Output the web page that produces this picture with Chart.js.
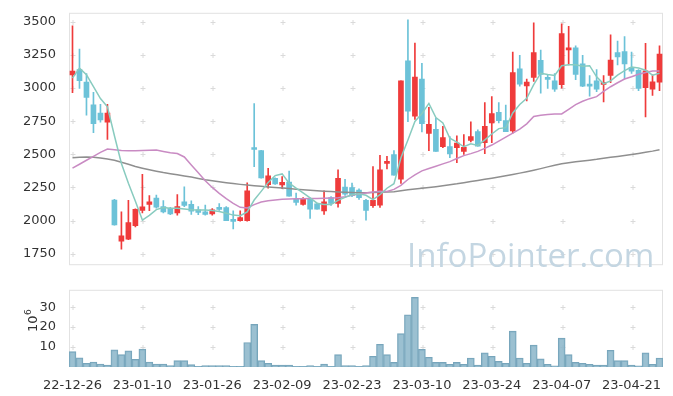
<!DOCTYPE html>
<html>
<head>
<meta charset="utf-8">
<script src="https://cdn.jsdelivr.net/npm/chart.js@4.4.0/dist/chart.umd.min.js"></script>
<style>
  html, body { margin: 0; padding: 0; background: #fff; }
  #wrap { position: relative; width: 673px; height: 396px; }
  canvas { position: absolute; left: 0; }
  #priceChart { top: 0; }
  #volumeChart { top: 277px; }
</style>
</head>
<body>
<div id="wrap">
  <canvas id="priceChart" width="673" height="278"></canvas>
  <canvas id="volumeChart" width="673" height="119"></canvas>
</div>
<script>
// Trading days
const dates = [
  '22-12-26','22-12-27','22-12-28','22-12-29',
  '23-01-02','23-01-03','23-01-04','23-01-05','23-01-06',
  '23-01-09','23-01-10','23-01-11','23-01-12','23-01-13',
  '23-01-16','23-01-17','23-01-18','23-01-19','23-01-20',
  '23-01-25','23-01-26','23-01-27',
  '23-01-30','23-01-31','23-02-01','23-02-02','23-02-03',
  '23-02-06','23-02-07','23-02-08','23-02-09','23-02-10',
  '23-02-13','23-02-14','23-02-15','23-02-16','23-02-17',
  '23-02-20','23-02-21','23-02-22','23-02-23','23-02-24',
  '23-02-27','23-02-28','23-03-02','23-03-03',
  '23-03-06','23-03-07','23-03-08','23-03-09','23-03-10',
  '23-03-13','23-03-14','23-03-15','23-03-16','23-03-17',
  '23-03-20','23-03-21','23-03-22','23-03-23','23-03-24',
  '23-03-27','23-03-28','23-03-29','23-03-30','23-03-31',
  '23-04-03','23-04-04','23-04-05','23-04-06','23-04-07',
  '23-04-10','23-04-11','23-04-12','23-04-13','23-04-14',
  '23-04-17','23-04-18','23-04-19','23-04-20','23-04-21',
  '23-04-24','23-04-25','23-04-26','23-04-27'
];

const openPrices = [3100,3140,3045,2873,2812,2743,2155,1844,1860,1962, 2077,2122,2170,2105,2093,2058,2141,2122,2081,2065,
  2050,2100,2098,2008,1999,1999,2546,2528,2271,2319, 2269,2290,2160,2122,2167,2126,2072,2174,2129,2253,
  2248,2230,2153,2112,2117,2432,2498,2312,3206,2788, 3068,2657,2688,2557,2559,2550,2521,2605,2671,2588,
  2736,2816,2754,2676,3145,3016,3080,3209,3071,3054, 3026,3287,3304,3183,3026,3054,3028,3095,3268,3275,
  3157,3133,3002,2992,3045];
const highPrices = [3470,3294,3109,2968,2878,2878,2160,2065,2153,2089, 2348,2188,2193,2150,2100,2196,2255,2148,2105,2117,
  2090,2129,2105,2074,2074,2284,2883,2530,2395,2322, 2331,2374,2207,2174,2170,2131,2224,2181,2383,2312,
  2283,2240,2160,2407,2493,2485,2528,3054,3515,3340, 3187,2854,2771,2712,2633,2640,2648,2745,2685,2890,
  2935,2890,2871,3271,3247,3068,3492,3287,3104,3110, 3485,3465,3318,3247,3094,3140,3094,3401,3354,3389,
  3271,3140,3337,3099,3318];
const lowPrices = [2965,2997,2795,2664,2743,2612,1965,1784,1855,1951, 2058,2074,2094,2058,2045,2040,2105,2046,2045,2041,
  2040,2077,1999,1936,1995,1995,2407,2320,2245,2272, 2241,2184,2117,2117,2017,2086,2046,2114,2101,2190,
  2180,2160,2003,2100,2100,2390,2343,2281,2747,2764, 2669,2528,2521,2550,2474,2436,2500,2593,2562,2505,
  2588,2736,2671,2660,3014,2902,3050,2961,2997,2975, 3000,3175,3064,3010,2938,2973,2895,3040,3175,3069,
  3110,2980,2783,2945,2980];
const closePrices = [3128,3056,2930,2731,2759,2812,1967,1884,1984,2084, 2103,2141,2101,2065,2050,2105,2114,2070,2062,2046,
  2081,2084,1999,1994,2022,2224,2536,2322,2338,2276, 2288,2184,2136,2162,2086,2086,2141,2129,2319,2200,
  2188,2172,2077,2153,2383,2438,2343,3054,2826,3083, 2731,2726,2521,2626,2502,2585,2552,2633,2562,2712,
  2807,2754,2671,3116,3030,3045,3268,3102,3066,2992, 3411,3304,3102,3014,3014,2992,3040,3211,3235,3183,
  3128,2997,3130,3047,3256];

// Moving averages (5, 20, 60 days)
const ma5 = [3075,3150,3100,3010,2921,2858,2640,2431,2281,2146, 2004,2039,2083,2099,2092,2092,2087,2081,2080,2080,
  2075,2069,2055,2041,2036,2065,2155,2220,2288,2339, 2352,2282,2244,2209,2171,2131,2122,2121,2152,2175,
  2195,2202,2191,2158,2195,2244,2278,2474,2608,2748, 2807,2884,2777,2737,2621,2592,2557,2580,2567,2609,
  2653,2694,2701,2812,2876,2923,3026,3112,3102,3095, 3168,3175,3175,3165,3169,3085,3032,3054,3098,3132,
  3159,3151,3135,3097,3112];
const ma20 = [2395,2425,2455,2485,2515,2540,2534,2528,2526,2526, 2528,2531,2532,2522,2512,2506,2480,2420,2360,2300,
  2250,2205,2165,2130,2100,2095,2120,2140,2150,2156, 2160,2162,2164,2165,2166,2167,2168,2170,2172,2180,
  2190,2200,2208,2215,2222,2220,2235,2265,2310,2345, 2375,2393,2410,2428,2445,2468,2490,2505,2522,2545,
  2570,2600,2630,2660,2690,2730,2785,2795,2800,2805, 2805,2840,2875,2900,2920,2935,2975,3010,3040,3068,
  3085,3104,3118,3128,3128];
const ma60 = [2474,2477,2479,2477,2472,2465,2455,2440,2425,2408, 2395,2383,2372,2362,2354,2345,2337,2328,2318,2308,
  2300,2293,2286,2279,2273,2268,2263,2258,2253,2249, 2245,2241,2237,2233,2229,2225,2222,2219,2216,2213,
  2211,2210,2210,2211,2213,2215,2218,2225,2232,2238, 2244,2250,2256,2263,2270,2277,2286,2295,2303,2311,
  2319,2328,2338,2348,2358,2369,2380,2392,2405,2418, 2428,2436,2443,2449,2456,2462,2470,2477,2484,2491,
  2498,2506,2515,2524,2535];

// Volume, millions of shares
const volumes = [7.7,4.6,1.9,2.5,1.5,1.0,8.6,6.2,8.1,3.8, 9.0,2.5,1.5,1.5,0.7,3.2,3.2,1.2,0.3,0.7,
  0.7,0.7,0.7,0.3,0.3,12.3,21.4,3.2,1.9,1.0, 1.0,1.0,0.3,0.3,0.7,0.3,1.5,0.3,6.2,0.7,
  0.7,0.3,0.7,5.4,11.4,6.2,2.3,16.7,26.2,34.9, 8.8,4.9,2.3,2.3,1.4,2.3,1.4,4.5,1.0,7.1,
  5.4,2.8,1.9,18.0,4.5,1.9,11.0,4.1,1.4,0.6, 14.5,6.2,2.3,1.9,1.4,1.0,1.0,8.4,3.2,3.2,
  1.0,0.6,7.1,1.4,4.5];

const priceTicks = [1750, 2000, 2250, 2500, 2750, 3000, 3250, 3500];
const volumeTicks = [10, 20, 30];

const UP = '#ef3b3b';
const DOWN = '#6cc2d8';
const FONT = 'DejaVu Sans';

const candleColors = closePrices.map((c, i) => c >= openPrices[i] ? UP : DOWN);

// Border plus the little "+" marks where grid lines would cross
function drawFrame(chart, yTicks) {
    const { ctx, chartArea: a, scales: { x, y } } = chart;
    ctx.save();
    ctx.strokeStyle = '#e2e2e2';
    ctx.lineWidth = 1;
    ctx.strokeRect(a.left + 0.5, a.top + 0.5, a.right - a.left - 1, a.bottom - a.top - 1);
    ctx.strokeStyle = '#dadada';
    ctx.beginPath();
    yTicks.forEach(v => {
        const py = Math.round(y.getPixelForValue(v)) + 0.5;
        for (let i = 0; i < dates.length; i += 10) {
            const px = Math.round(x.getPixelForValue(i)) + 0.5;
            ctx.moveTo(px - 2, py); ctx.lineTo(px + 3, py);
            ctx.moveTo(px + 0.5, py - 2.5); ctx.lineTo(px + 0.5, py + 2.5);
        }
    });
    ctx.stroke();
    ctx.restore();
}

const priceFrame = {
    id: 'priceFrame',
    beforeDatasetsDraw(chart) {
        drawFrame(chart, priceTicks);
        const ctx = chart.ctx;
        ctx.save();
        ctx.font = '33px "Open Sans"';
        ctx.fillStyle = '#c4d6e2';
        ctx.textBaseline = 'alphabetic';
        ctx.fillText('InfoPointer.com', 407, 267);
        ctx.restore();
    }
};

const volumeFrame = {
    id: 'volumeFrame',
    beforeDatasetsDraw(chart) {
        drawFrame(chart, volumeTicks);
    },
    afterDraw(chart) {
        const ctx = chart.ctx;
        ctx.save();
        ctx.translate(37, 55);
        ctx.rotate(-Math.PI / 2);
        ctx.fillStyle = '#333';
        ctx.textBaseline = 'alphabetic';
        ctx.font = '13px "' + FONT + '"';
        ctx.fillText('10', 0, 0);
        const w = ctx.measureText('10').width;
        ctx.font = '9px "' + FONT + '"';
        ctx.fillText('6', w + 0.5, -6);
        ctx.restore();
    }
};

new Chart(document.getElementById('priceChart'), {
    type: 'bar',
    data: {
        labels: dates,
        datasets: [
            {
                type: 'line', data: ma5, borderColor: '#88cbbf', borderWidth: 1.5,
                pointRadius: 0, tension: 0, order: 0
            },
            {
                type: 'line', data: ma20, borderColor: '#c98bc3', borderWidth: 1.5,
                pointRadius: 0, tension: 0, order: 0
            },
            {
                type: 'line', data: ma60, borderColor: '#8f8f8f', borderWidth: 1.5,
                pointRadius: 0, tension: 0, order: 0
            },
            {
                // candle bodies
                data: openPrices.map((o, i) => [o, closePrices[i]]),
                backgroundColor: candleColors, barThickness: 5, minBarLength: 2,
                grouped: false, order: 1
            },
            {
                // wicks
                data: lowPrices.map((l, i) => [l, highPrices[i]]),
                backgroundColor: candleColors, barThickness: 1,
                grouped: false, order: 2
            }
        ]
    },
    options: {
        responsive: false,
        animation: false,
        events: [],
        layout: { padding: { top: 10, right: 10, bottom: 1, left: 0 } },
        plugins: { legend: { display: false }, tooltip: { enabled: false } },
        scales: {
            x: { type: 'category', display: false, offset: true },
            y: {
                min: 1663, max: 3568,
                afterFit(scale) { scale.width = 69; },
                afterBuildTicks(scale) { scale.ticks = priceTicks.map(v => ({ value: v })); },
                grid: { display: false },
                border: { display: false },
                ticks: {
                    padding: 5, color: '#333', font: { family: FONT, size: 13 },
                    callback: v => String(v)
                }
            }
        }
    },
    plugins: [priceFrame]
});

new Chart(document.getElementById('volumeChart'), {
    type: 'bar',
    data: {
        labels: dates,
        datasets: [{
            data: volumes,
            backgroundColor: 'rgba(137,181,201,0.85)',
            borderColor: '#77a5bb',
            borderWidth: 1,
            barPercentage: 1,
            categoryPercentage: 1
        }]
    },
    options: {
        responsive: false,
        animation: false,
        events: [],
        layout: { padding: { top: 1, right: 10, bottom: 0, left: 0 } },
        plugins: { legend: { display: false }, tooltip: { enabled: false } },
        scales: {
            x: {
                type: 'category', offset: true,
                afterFit(scale) { scale.height = 29; },
                grid: { display: false },
                border: { display: false },
                ticks: {
                    autoSkip: false, maxRotation: 0, padding: 3,
                    color: '#333', font: { family: FONT, size: 13 },
                    callback: (v, i) => i % 10 === 0 ? dates[i] : ''
                }
            },
            y: {
                min: 0, max: 38.7,
                afterFit(scale) { scale.width = 69; },
                afterBuildTicks(scale) { scale.ticks = volumeTicks.map(v => ({ value: v })); },
                grid: { display: false },
                border: { display: false },
                ticks: {
                    padding: 5, color: '#333', font: { family: FONT, size: 13 },
                    callback: v => String(v)
                }
            }
        }
    },
    plugins: [volumeFrame]
});
</script>
</body>
</html>
